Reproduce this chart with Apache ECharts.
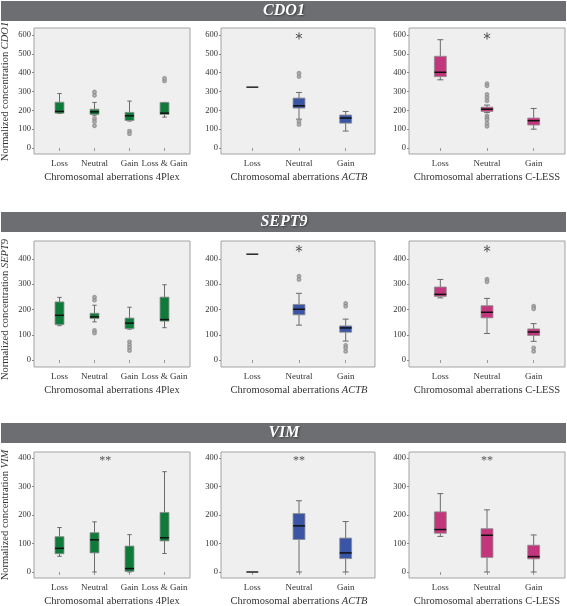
<!DOCTYPE html>
<html><head><meta charset="utf-8">
<script src="https://cdn.jsdelivr.net/npm/echarts@6/dist/echarts.min.js"></script>
<style>html,body{margin:0;padding:0;background:#fff}#c{width:567px;height:606px}</style>
</head><body><div id="c"></div>
<script>
// ---------- data ----------
const genes = ['CDO1', 'SEPT9', 'VIM'];
const methods = ['4Plex', 'ACTB', 'C-LESS'];
const cats4Plex = ['Loss', 'Neutral', 'Gain', 'Loss & Gain'];
const cats3 = ['Loss', 'Neutral', 'Gain'];
const yTicksCDO1 = [0, 100, 200, 300, 400, 500, 600];
const yTicksSEPT9 = [0, 100, 200, 300, 400];
const yTicksVIM = [0, 100, 200, 300, 400];

// boxes: [min, Q1, median, Q3, max] per category
const cdo1_4plex_box = [[183,185,194,243,289],[171,178,192,206,242],[143,146,171,189,249],[164,178,185,242,242]];
const cdo1_4plex_out = [[1,280],[1,298],[1,155],[1,140],[1,118],[2,90],[2,76],[3,356],[3,370]];
const cdo1_4plex_ext = [];
const cdo1_actb_box = [[323,323,323,323,323],[153,212,224,265,295],[90,132,159,175,194]];
const cdo1_actb_out = [[1,397],[1,379],[1,141],[1,125]];
const cdo1_actb_ext = [[1,595]];
const cdo1_cless_box = [[362,379,402,487,575],[189,194,206,217,228],[100,122,145,159,210]];
const cdo1_cless_out = [[1,342],[1,330],[1,285],[1,268],[1,250],[1,172],[1,160],[1,150],[1,130],[1,115]];
const cdo1_cless_ext = [[1,595]];

const sept9_4plex_box = [[136,140,177,230,248],[151,164,171,185,217],[122,124,146,166,209],[128,154,160,249,298]];
const sept9_4plex_out = [[1,237],[1,249],[1,117],[1,107],[2,72],[2,60],[2,49],[2,37]];
const sept9_4plex_ext = [];
const sept9_actb_box = [[419,419,419,419,419],[138,179,201,220,264],[75,110,127,135,162]];
const sept9_actb_out = [[1,332],[1,319],[2,224],[2,213],[2,58],[2,48],[2,34]];
const sept9_actb_ext = [[1,441]];
const sept9_cless_box = [[246,252,260,289,319],[105,167,189,215,244],[74,97,111,123,144]];
const sept9_cless_out = [[1,320],[1,310],[2,213],[2,203],[2,48],[2,34]];
const sept9_cless_ext = [[1,441]];

const vim_4plex_box = [[55,64,83,124,156],[0,67,113,138,176],[0,2,12,91,131],[65,109,120,209,352]];
const vim_actb_box = [[0,0,0,0,0],[0,114,162,205,250],[0,47,67,119,177]];
const vim_cless_box = [[125,136,149,211,275],[0,51,129,152,218],[0,46,54,94,130]];
const vim_sig = [[1, 400, '**']];

// ---------- style / layout ----------
const FONT = 'Liberation Serif, Times New Roman, serif';
const GREEN = '#0f7b3b', BLUE = '#3a55a6', MAGENTA = '#c4367b';
const cols = [{left:34, w:156}, {left:221, w:154}, {left:409, w:156}];
const rows = [
  {hdr:1,   top:28,  bottom:154, tickTop:35,  zero:148},
  {hdr:212, top:241, bottom:367, tickTop:259, zero:360},
  {hdr:423, top:452, bottom:578, tickTop:458, zero:572}
];
const panels = [
  {gene:0, m:0, cats:cats4Plex, box:cdo1_4plex_box, out:cdo1_4plex_out, ext:cdo1_4plex_ext, color:GREEN, ticks:yTicksCDO1},
  {gene:0, m:1, cats:cats3, box:cdo1_actb_box, out:cdo1_actb_out, ext:cdo1_actb_ext, color:BLUE, ticks:yTicksCDO1},
  {gene:0, m:2, cats:cats3, box:cdo1_cless_box, out:cdo1_cless_out, ext:cdo1_cless_ext, color:MAGENTA, ticks:yTicksCDO1},
  {gene:1, m:0, cats:cats4Plex, box:sept9_4plex_box, out:sept9_4plex_out, ext:sept9_4plex_ext, color:GREEN, ticks:yTicksSEPT9},
  {gene:1, m:1, cats:cats3, box:sept9_actb_box, out:sept9_actb_out, ext:sept9_actb_ext, color:BLUE, ticks:yTicksSEPT9},
  {gene:1, m:2, cats:cats3, box:sept9_cless_box, out:sept9_cless_out, ext:sept9_cless_ext, color:MAGENTA, ticks:yTicksSEPT9},
  {gene:2, m:0, cats:cats4Plex, box:vim_4plex_box, out:[], ext:[], color:GREEN, ticks:yTicksVIM, sig:vim_sig, sigShift:0.31},
  {gene:2, m:1, cats:cats3, box:vim_actb_box, out:[], ext:[], color:BLUE, ticks:yTicksVIM, sig:vim_sig, sigShift:0},
  {gene:2, m:2, cats:cats3, box:vim_cless_box, out:[], ext:[], color:MAGENTA, ticks:yTicksVIM, sig:vim_sig, sigShift:0}
];

const rich = {
  n: {fontFamily: FONT, fontSize: 10.5, color: '#333'},
  i: {fontFamily: FONT, fontSize: 10.5, color: '#333', fontStyle: 'italic'}
};
function xName(m) {
  return m === 1 ? '{n|Chromosomal aberrations }{i|' + methods[m] + '}' : '{n|Chromosomal aberrations ' + methods[m] + '}';
}

function makeBoxRender(color) {
  return function (params, api) {
    const cat = api.value(0);
    const v = [api.value(1), api.value(2), api.value(3), api.value(4), api.value(5)];
    const band = api.size([1, 0])[0];
    const bw = Math.min(band * 0.255, 12);
    const cw = bw * 0.5;
    const p = v.map(val => api.coord([cat, val]));
    const x = p[0][0];
    const ch = [];
    if (v[1] === v[3]) {
      ch.push({type:'line', shape:{x1:x - bw/2, y1:p[2][1], x2:x + bw/2, y2:p[2][1]}, style:{stroke:'#222', lineWidth:1.5}});
      return {type:'group', children:ch};
    }
    const ws = {stroke:'#6a6a6a', lineWidth:1};
    ch.push({type:'line', shape:{x1:x, y1:p[0][1], x2:x, y2:p[1][1]}, style:ws});
    ch.push({type:'line', shape:{x1:x, y1:p[3][1], x2:x, y2:p[4][1]}, style:ws});
    ch.push({type:'line', shape:{x1:x - cw/2, y1:p[0][1], x2:x + cw/2, y2:p[0][1]}, style:ws});
    ch.push({type:'line', shape:{x1:x - cw/2, y1:p[4][1], x2:x + cw/2, y2:p[4][1]}, style:ws});
    ch.push({type:'rect', shape:{x:x - bw/2, y:p[3][1], width:bw, height:p[1][1] - p[3][1]}, style:{fill:color, stroke:'#8c8c8c', lineWidth:0.8}});
    ch.push({type:'line', shape:{x1:x - bw/2, y1:p[2][1], x2:x + bw/2, y2:p[2][1]}, style:{stroke:'#111', lineWidth:1.5}});
    return {type:'group', children:ch};
  };
}
function starRender(params, api) {
  const pt = api.coord([api.value(0), api.value(1)]);
  const r = 3.6, ch = [];
  [90, 30, 150].forEach(a => {
    const dx = r * Math.cos(a * Math.PI / 180), dy = r * Math.sin(a * Math.PI / 180);
    ch.push({type:'line', shape:{x1:pt[0] - dx, y1:pt[1] - dy, x2:pt[0] + dx, y2:pt[1] + dy}, style:{stroke:'#555', lineWidth:1}});
  });
  return {type:'group', children:ch};
}
function makeSigRender(shift, labels) {
  return function (params, api) {
    const pt = api.coord([api.value(0), api.value(1)]);
    const band = api.size([1, 0])[0];
    return {type:'text', x: pt[0] + shift * band, y: pt[1] + 3,
      style:{text: labels[params.dataIndex], fill:'#555', font: '12px ' + FONT, align:'center', verticalAlign:'middle'}};
  };
}

const option = {animation:false, grid:[], xAxis:[], yAxis:[], series:[], graphic:[]};
rows.forEach((R, r) => {
  option.graphic.push({type:'rect', shape:{x:1, y:R.hdr, width:565, height:20}, style:{fill:'#6d6e71'}, z:10});
  option.graphic.push({type:'text', x:284, y:R.hdr + 10, z:11,
    style:{text:genes[r], fill:'#fff', font:'italic bold 16px ' + FONT, align:'center', verticalAlign:'middle',
      textShadowColor:'rgba(0,0,0,0.45)', textShadowBlur:2, textShadowOffsetX:1, textShadowOffsetY:1}});
});
panels.forEach((p, k) => {
  const R = rows[p.gene], C = cols[p.m];
  const bgI = option.grid.length;
  option.grid.push({left:C.left, top:R.top, width:C.w, height:R.bottom - R.top, show:true,
    backgroundColor:'#efefef', borderColor:'#a3a3a3', borderWidth:1, containLabel:false, outerBoundsMode:'none'});
  option.xAxis.push({gridIndex:bgI, type:'value', show:false});
  option.yAxis.push({gridIndex:bgI, type:'value', show:false});
  const dI = option.grid.length;
  option.grid.push({left:C.left + 8, top:R.tickTop, width:140, height:R.zero - R.tickTop, show:false,
    containLabel:false, outerBoundsMode:'none'});
  option.xAxis.push({gridIndex:dI, type:'category', data:p.cats, boundaryGap:true, offset:R.bottom - R.zero,
    axisLine:{show:false}, axisTick:{show:true, alignWithLabel:true, length:3, lineStyle:{color:'#999'}},
    axisLabel:{interval:0, margin:5, fontSize:9, color:'#333', fontFamily:FONT, hideOverlap:false},
    splitLine:{show:false},
    name:xName(p.m), nameLocation:'middle', nameGap:18, nameTextStyle:{rich:rich}});
  const t = p.ticks;
  const ya = {gridIndex:dI, type:'value', min:t[0], max:t[t.length - 1], interval:t[1] - t[0], offset:8,
    axisLine:{show:false}, axisTick:{show:true, length:2, lineStyle:{color:'#888'}}, splitLine:{show:false},
    axisLabel:{fontSize:8.5, color:'#333', fontFamily:FONT, margin:3}};
  if (p.m === 0) {
    ya.name = '{n|Normalized concentration }{i|' + genes[p.gene] + '}';
    ya.nameLocation = 'middle'; ya.nameRotate = 90; ya.nameGap = 23;
    ya.nameTextStyle = {rich:rich};
  }
  option.yAxis.push(ya);
  option.series.push({type:'custom', xAxisIndex:dI, yAxisIndex:dI, renderItem:makeBoxRender(p.color),
    data:p.box.map((b, i) => [i].concat(b)), encode:{x:0, y:[1, 2, 3, 4, 5]}, z:3, silent:true, clip:false});
  if (p.out.length) option.series.push({type:'scatter', xAxisIndex:dI, yAxisIndex:dI, data:p.out,
    symbol:'emptyCircle', symbolSize:2.8, itemStyle:{color:'#8a8a8a', borderWidth:0.7}, clip:false, z:4, silent:true});
  if (p.ext.length) option.series.push({type:'custom', xAxisIndex:dI, yAxisIndex:dI, renderItem:starRender,
    data:p.ext, encode:{x:0, y:1}, clip:false, z:4, silent:true});
  if (p.sig) option.series.push({type:'custom', xAxisIndex:dI, yAxisIndex:dI,
    renderItem:makeSigRender(p.sigShift, p.sig.map(s => s[2])),
    data:p.sig.map(s => [s[0], s[1]]), encode:{x:0, y:1}, clip:false, z:4, silent:true});
});
const chart = echarts.init(document.getElementById('c'), null, {renderer:'canvas'});
chart.setOption(option);
</script></body></html>
